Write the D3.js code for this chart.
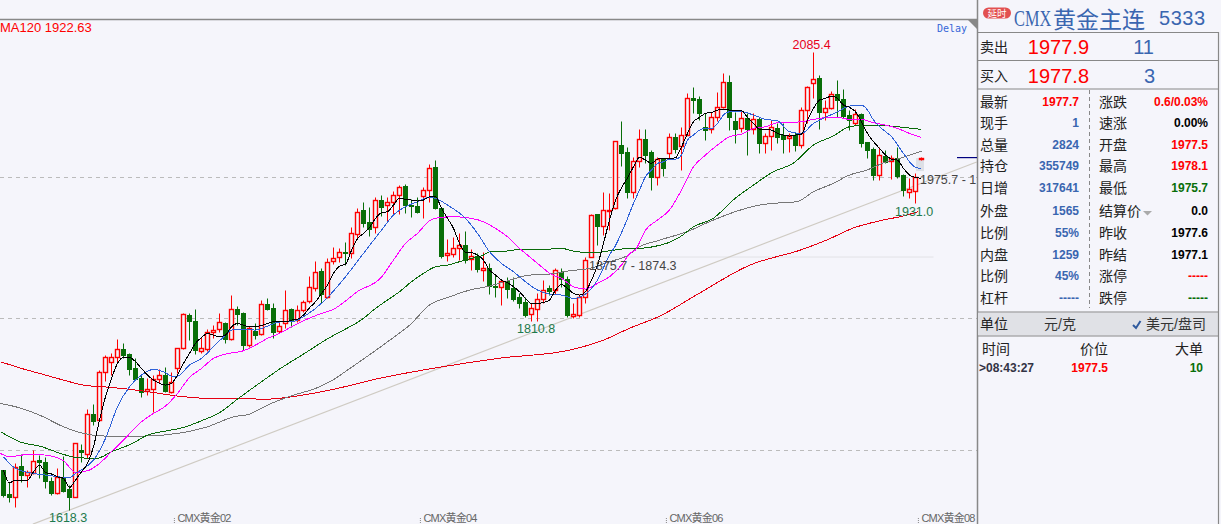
<!DOCTYPE html>
<html><head><meta charset="utf-8">
<script src="https://cdn.jsdelivr.net/npm/d3@7/dist/d3.min.js"></script>
<style>html,body{margin:0;padding:0;background:#f5f5fb;overflow:hidden}svg{display:block}
text{font-family:"Liberation Sans","Noto Sans CJK SC",sans-serif}</style></head><body>
<script>
const opens=[1659,1634.5,1631.8,1663.1,1654.2,1656.3,1669.2,1666.8,1648.1,1635.9,
1652.2,1639.3,1631.8,1679,1675.3,1716.1,1710,1758.6,1769.5,1773.9,
1782.4,1777,1763,1753.2,1739.2,1741.3,1751.5,1755.6,1738.9,1763.4,
1783.1,1817.1,1811,1780.7,1782.8,1799.4,1802.5,1808.6,1792.3,1822.9,
1818.8,1786.8,1801.1,1797.7,1828,1823.9,1801.1,1808.6,1822.9,1812,
1821.9,1831.7,1845,1862,1835.8,1872.5,1875.9,1881.4,1880,1899.4,
1924.2,1912,1907.2,1934.4,1929,1932,1939.2,1948.7,1929.3,1928.6,
1938.8,1944.6,1967.7,1925.9,1878,1879.3,1885.1,1888.2,1874.2,1877,
1863.3,1865,1846.7,1845.7,1851.4,1844.3,1835.1,1830,1817.8,1823.6,
1833.8,1844.6,1842.6,1861.3,1853.5,1816.4,1817.1,1835.1,1876.6,1919.8,
1907.9,1922.8,1925.9,1990.5,1983.4,1942.9,1973.8,1996.6,1983.4,1957.5,
1975.9,1982.7,1998.3,1989.8,2001,2038.1,2037.1,2008.9,2007.2,2018.7,
2029.6,2054.4,2014.6,2007.8,2018,2006.5,2016.7,1992.2,1999.3,2007.8,
2000.4,1997.3,2000.4,1990.2,2026.2,2054.1,2058.5,2024.5,2028.6,2042.5,
2037.1,2020.8,2013.3,2021.8,1993.2,1986.1,1960.2,1979.6,1974.2,1976.9,
1959.9,1942.2,1943.2,1977.5];
const closes=[1633.5,1631.8,1662.4,1654.2,1657.3,1668.5,1667.5,1648.1,1635.2,1651.5,
1637.9,1631.8,1686.2,1677.4,1715.8,1709.3,1758.6,1773.9,1774.6,1782.1,
1776.6,1762,1752.2,1738.9,1741.3,1751.8,1755.6,1739.9,1748.4,1783.1,
1817.8,1811.3,1781.4,1783.4,1799.4,1801.5,1809.6,1792.6,1822.9,1818.5,
1786.8,1803.8,1796.7,1828,1823.2,1800.1,1806.2,1821.9,1811.3,1821.9,
1830,1845.3,1860.6,1838.2,1870.8,1875.6,1881,1880,1900.4,1922.5,
1911.3,1904.5,1934.1,1927.6,1932,1939.2,1947.7,1929.6,1928.6,1922.5,
1944.3,1966.7,1925.9,1877.6,1880,1885.1,1888.2,1873.2,1877,1864,
1864.7,1846.7,1845.7,1851.4,1843.6,1833.4,1829.7,1817.1,1823.9,1833.8,
1842.9,1841.9,1863,1853.5,1817.1,1817.8,1835.1,1873.2,1918.8,1907.9,
1923.9,1924.2,1994.2,1982.7,1942.9,1973.8,1996.3,1980.3,1957.5,1975.9,
1966.7,1998.3,1986.1,2001,2038.1,2036.7,2023.5,2006.1,2018.7,2029.6,
2054.4,2018.7,2007.2,2018,2007.2,2016.7,1992.2,1999.7,2008.5,1999,
1997,1999.3,1990.8,2025.9,2049.3,2058.2,2024.5,2028.6,2042.5,2036.4,
2020.1,2016,2021.8,1992.9,1985.4,1959.9,1980,1973.5,1977.6,1958.9,
1944.6,1946,1958.2,1977.7];
const highs=[1659,1647,1665.8,1675.3,1659,1679.4,1674.3,1672.6,1651.5,1660.7,
1673.3,1643.7,1686.2,1685.5,1721.2,1726.3,1761,1776.3,1778,1792.3,
1788.5,1778,1772.9,1755.9,1752.5,1755.9,1761.7,1763.7,1759.3,1783.8,
1818.8,1819.5,1822.9,1794.3,1802.8,1806.9,1818.8,1810.3,1837.5,1826.3,
1820.5,1806.2,1808.6,1832.4,1834.8,1829.7,1810.3,1842.6,1823.9,1827.3,
1832.4,1856.9,1872.2,1864.7,1874.9,1886.8,1885.1,1891.9,1906.5,1925.9,
1932.7,1927.6,1937.8,1939.5,1937.1,1943.9,1949.7,1950.7,1935.1,1937.8,
1947.3,1971.1,1975.2,1927.6,1894.3,1897,1900.4,1903.1,1884.1,1880,
1881.7,1870.5,1857.9,1852.8,1856.2,1856.2,1839.9,1835.8,1829,1839.2,
1852.8,1847.7,1864.7,1864.7,1856.9,1829,1838.5,1876.6,1920.1,1920.1,
1942.9,1941.2,1994.9,2015.3,1988.8,1978.6,2007.2,2006.8,1985.4,1978.6,
1976.9,2003.1,2002.4,2008.5,2043.2,2049.3,2040.5,2022.8,2024.5,2044.6,
2063.6,2061.9,2024.5,2026.2,2022.8,2023.5,2019.4,2002.4,2016,2012.6,
2012.6,2002.4,2004.1,2029.6,2050.7,2085.4,2061.9,2036.4,2045.9,2056.8,
2047.3,2026.2,2026.9,2022.8,1993.9,1988.1,1988.1,1985.4,1980.3,1988.8,
1960.9,1956.5,1962.3,1978.1];
const lows=[1631.8,1626,1620.9,1647.1,1642,1654.9,1650.5,1640.3,1633.5,1634.5,
1636.9,1618.3,1631.1,1667.5,1670.9,1704.9,1709.3,1750.1,1755.9,1769.5,
1773.6,1755.9,1750.8,1733.8,1735.5,1718.5,1747.4,1738.9,1737.9,1758.3,
1782.1,1791.6,1777.3,1778.7,1780.7,1793.3,1800.1,1788.9,1791.6,1806.9,
1781.4,1784.1,1792.6,1796.7,1822.2,1793.3,1798.4,1803.5,1805.2,1810.3,
1820.5,1829,1841.9,1829,1834.1,1869.1,1871.5,1868.1,1874.9,1895.3,
1906.5,1897.7,1900.4,1918.1,1912.3,1919.1,1920.1,1921.5,1916.7,1921.5,
1915.7,1932.7,1924.9,1874.9,1872.5,1876.6,1873.2,1869.8,1863,1860.6,
1852.1,1838.5,1835.8,1827.3,1834.1,1831.7,1823.9,1815.4,1811.3,1810.8,
1829,1837.5,1838.5,1846,1815.4,1813.7,1815.4,1829,1875.9,1888.5,
1898.7,1903.8,1924.9,1969.1,1936.8,1936.8,1968.4,1971.8,1944.6,1949.7,
1958.9,1976.9,1982.7,1965,2000.3,2022.8,2016,1995.6,2002.4,2015.3,
2027.9,2005.8,1992.9,2004.1,1980.3,2001.7,1982.7,1982.7,1985.4,1992.2,
1982,1983.7,1984.7,1987.1,2013.3,2038.4,2006.5,2016,2026.9,2018.7,
2017.7,2005.8,2010.9,1988.8,1976.9,1954.8,1954.8,1971.8,1955.8,1956.5,
1938.5,1936.1,1931,1975.7];
// moving averages: [candle index, price]
const ma5=[1659,1646,1648.8,1648.8,1648.8,1657.3,1664,1656.6,1655,1652.2,
1650.5,1641.3,1648.8,1657.3,1665.8,1682.8,1710,1733.8,1752.5,1767.8,
1773.9,1773.9,1769.5,1762.7,1755.9,1750.8,1747.4,1745.7,1747.4,1755.9,
1767.8,1778,1788.2,1794.3,1798.4,1796.7,1795,1796.7,1805.2,1808.6,
1806.9,1805.2,1805.2,1806.6,1808.6,1810.3,1810.3,1810.3,1812,1813,
1817.1,1824.5,1830.7,1839.2,1847.7,1859.6,1867,1869,1883,1895,
1900.4,1906.5,1915.7,1921.5,1922.5,1929.3,1936.1,1935.1,1934.4,1933.4,
1934.4,1937.8,1937.8,1925.9,1915.7,1905.5,1890.2,1881,1880.7,1878.3,
1873.2,1863,1857.9,1852.8,1850.1,1846,1840.9,1834.1,1829,1829,
1830,1832.4,1842.6,1848.4,1844.3,1839.2,1837.5,1840.9,1852.8,1868.1,
1890.2,1914,1934,1947,1957,1968.4,1977.9,1975.2,1971.8,1976.2,
1976.9,1976.9,1977.6,1988.8,2002.4,2014.3,2018.7,2022.8,2023.8,2026.2,
2026.9,2026.2,2025.5,2025.5,2018.7,2012.6,2006.8,2006.8,2005.8,2002.4,
2000.7,1999.7,2000.7,2001.7,2016,2027.9,2036.4,2038.1,2040.5,2038.1,
2031.3,2028.9,2024.5,2014.3,2002.4,1993.9,1987.1,1980.3,1976.2,1975.2,
1966.7,1959.9,1957.5,1956.5];
const ma10Idx=[0,2,5,8,11,12,14,15,17,19,21,23,25,27,28,29,31,33,35,37,38,40,42,44,46,48,49,50,52,54,57,60,63,65,67,69,71,72,74,77,79,81,83,85,87,89,91,93,95,97,99,101,102,103,104,105,106,107,108,109,110,111,112,113,114,115,116,117,118,119,120,121,123,125,127,129,131,133,135,137,139,141,143,144,145,146,148,150,152,153];
const ma10=[1672.6,1660.7,1655.6,1653.2,1651.2,1655.6,1663.4,1669.2,1691.3,1723.6,1744,1755.9,1761.7,1758.3,1754.9,1754.9,1766.1,1772.9,1784.8,1796.7,1801.8,1802.5,1801.8,1805.9,1810,1810.3,1812,1815.4,1823.9,1835,1856.2,1880,1903.8,1919.1,1927.6,1932.7,1937.1,1936.1,1929.3,1915.7,1900.4,1881.7,1869.8,1861.3,1851.1,1842.6,1838.5,1837.5,1834.1,1838.5,1852.8,1878.3,1888,1901,1915.7,1931,1944.6,1958.2,1965,1971.8,1973.5,1976.2,1976.2,1980.3,1995.6,2000.7,2005.8,2007.5,2007.5,2012.6,2021.1,2024.5,2024.5,2021.1,2016.7,2015.3,2004.1,2002.4,2012.6,2018.7,2024.5,2030.3,2031.3,2026.2,2016,2009.2,1999,1982,1967.7,1966.7];
const ma20Idx=[-0.5,1,3,5,7,10,12,14,16,18,20,23,25,27,29,31,33,35,37,40,42,44,46,48,50,53,55,57.2,59.4,60,62.8,65,67,69,71,72.8,75,78,80,82,84,86,88,90,91,93,95,97,99,101,103,104.4,105.3,107,109,111,113,115,117,119,121,123,125,127,129,131,133,135,137,139,141,143,145,147,149,151,153];
const ma20=[1676,1672.6,1674.3,1675,1674.3,1668.5,1656.6,1658.3,1665.8,1677.7,1689.6,1708.3,1716.8,1724.3,1737.2,1753.5,1762.7,1772.9,1777.3,1780.7,1786.5,1793.3,1798.4,1805.2,1811.3,1818.8,1822.9,1832.4,1842.6,1844.3,1854.5,1873.2,1890.2,1900.4,1913.3,1916.7,1917.4,1915.7,1912.3,1905.5,1897,1885.1,1874.9,1864.7,1859.6,1854.5,1846,1843.6,1849.4,1856.2,1868.1,1880,1883.4,1903.8,1914,1924.2,1944.6,1968.4,1980.3,1990.5,1999,2001.7,2007.5,2009.2,2013.3,2013.6,2014.3,2016.7,2018.4,2018.7,2016.7,2016.7,2013.3,2010.9,2007.5,2002.4,1998.3];
const ma40Idx=[-0.5,3,6,10,12,15.5,18,21.5,24,27,30,33,36,39,43,46,50,54.4,56.7,60,62,64,66,68,70,72,74,76,78,80,81,83,85,88,91,93,95,97,99,101,104.4,105.3,110.5,112.8,115,118.3,121.6,125,128.3,131.6,135,138.3,141,143.9,147.2,150.5,153];
const ma40=[1698.1,1687.2,1683.5,1675,1671.9,1670.9,1677.7,1686.2,1694.7,1698.8,1702.5,1709.3,1717.5,1731.4,1749.1,1762,1777.3,1794.3,1801.8,1813.7,1823.9,1832.4,1840.9,1851.1,1859.6,1866.4,1868.1,1871.5,1874.9,1878.3,1881.7,1881.7,1883.4,1884.1,1884.4,1885.1,1882.4,1881,1881,1882.7,1885.1,1885.1,1890.2,1897,1907.2,1915.7,1934.4,1949.7,1963.3,1971.8,1990.5,1999.7,2009.2,2010.9,2010.2,2008.2,2006.5];
const ma60Idx=[-0.5,3,6,10,13.3,17,23.4,29,34,38.4,41,44,48,52,54.4,57.8,64.4,67.7,71,74.4,77.7,81,84.4,87.7,91,94.4,97.7,101,104.4,105.5,109.4,113.9,118.3,122.8,126,128.3,132.2,135,138.3,141,143.9,147.2,149.4,153];
const ma60=[1727,1721.9,1715.1,1703.2,1696.4,1693.7,1693.7,1696.4,1703.2,1713.4,1716.1,1725.3,1734.8,1742.3,1749.1,1763,1791.6,1806.9,1827.3,1835.8,1842.6,1846.7,1852.8,1857.9,1858.9,1862.3,1864.7,1871.5,1879.3,1885.1,1893.6,1902.1,1914,1924.2,1929.3,1931,1932.7,1942.9,1951.4,1959.9,1965,1973.5,1976.9,1984.4];
const ma120Idx=[-0.5,3,6,10,13.3,18,23.4,29,34,38.4,44,48,54.4,62.8,72.8,82.8,94.4,100,104.4,109.4,116,124.4,132.8,137.2,141.6,146.6,150.6,152.4];
const ma120=[1769.5,1762.7,1757.6,1750.8,1745.7,1743.3,1739.6,1734.5,1732.1,1731.8,1731.4,1733.8,1740.6,1752.8,1764,1773.2,1781.4,1791.6,1803.8,1816.1,1839.5,1868.1,1883.4,1893.6,1905.8,1914,1919.1,1922.6];
const trendIdx=[4.9,162.2], trendPrice=[1603.9,1973.2];
const levelIdx=[97,155], levelPrice=[1876.3,1876.3];
const gridPrices=[1958,1814,1679.5];
const monthTicks=[28.4,69.4,110.4,152.4];
const monthLabels=["CMX黄金02","CMX黄金04","CMX黄金06","CMX黄金08"];

const W=1221,H=524,RED="#f00",GREEN="#086e08",BLUE="#3a66b0",BG="#f5f5fb";
const svg=d3.select("body").append("svg").attr("width",W).attr("height",H);
const x=d3.scaleLinear().domain([0,153]).range([3.5,921.5]);
const y=d3.scaleLinear().domain([2085.4,1618.3]).range([52,510]);
svg.append("rect").attr("width",W).attr("height",H).attr("fill",BG);
svg.append("defs").append("clipPath").attr("id","plot").append("rect").attr("x",0).attr("y",20).attr("width",977).attr("height",504);
const plot=svg.append("g").attr("clip-path","url(#plot)");

plot.selectAll(".grid").data(gridPrices).join("line")
 .attr("x1",0).attr("x2",977).attr("y1",d=>Math.round(y(d))+.5).attr("y2",d=>Math.round(y(d))+.5)
 .attr("stroke","#bbb").attr("stroke-dasharray","4 4");
const seg=(xs,ps,c,w=1)=>plot.append("line").attr("x1",x(xs[0])).attr("x2",x(xs[1])).attr("y1",y(ps[0])).attr("y2",y(ps[1])).attr("stroke",c).attr("stroke-width",w);
seg(levelIdx,levelPrice,"#e2e2e6");
seg(trendIdx,trendPrice,"#cfcbc3",1.2);

// highlight behind latest candle
plot.append("rect").attr("x",x(153)-5.5).attr("y",y(1977.2)).attr("width",8).attr("height",13).attr("fill","#dde0e6");

const idx=d3.range(opens.length);
const px=v=>Math.round(y(v))+.5;
const candles=plot.append("g");
candles.selectAll("line").data(idx).join("line")
 .attr("x1",i=>x(i)).attr("x2",i=>x(i)).attr("y1",i=>px(highs[i])).attr("y2",i=>px(lows[i]))
 .attr("stroke",i=>closes[i]>=opens[i]?RED:GREEN);
candles.selectAll("rect").data(idx).join("rect")
 .attr("x",i=>closes[i]>=opens[i]?x(i)-2:x(i)-2.5)
 .attr("width",i=>closes[i]>=opens[i]?4:5)
 .attr("y",i=>closes[i]>=opens[i]?px(closes[i]):px(opens[i])-.5)
 .attr("height",i=>{const h=Math.abs(px(closes[i])-px(opens[i]));return closes[i]>=opens[i]?Math.max(h,1):Math.max(h+1,2)})
 .attr("fill",i=>closes[i]>=opens[i]?BG:GREEN)
 .attr("stroke",i=>closes[i]>=opens[i]?RED:"none")
 .attr("stroke-width",1.4);

const line=d3.line().x(d=>x(d[0])).y(d=>y(d[1])).curve(d3.curveMonotoneX);
const drawMa=(xs,vs,c,w)=>plot.append("path").attr("d",line(xs.map((v,k)=>[v,vs[k]]))).attr("fill","none").attr("stroke",c).attr("stroke-width",w).attr("shape-rendering","crispEdges");
drawMa(ma120Idx,ma120,"#e60012",1);
drawMa(ma60Idx,ma60,"#777",1);
drawMa(ma40Idx,ma40,"#0a6a0a",1);
drawMa(ma20Idx,ma20,"#ff00ff",1);
drawMa(ma10Idx,ma10,"#2f62d8",1);
drawMa(idx,ma5,"#000",1);

// frame
svg.append("line").attr("x1",0).attr("x2",977).attr("y1",19.5).attr("y2",19.5).attr("stroke","#888").attr("stroke-width",1.5);
svg.append("path").attr("d","M968 20L977 20L977 29Z").attr("fill","#888");
svg.append("line").attr("x1",977.5).attr("x2",977.5).attr("y1",0).attr("y2",H).attr("stroke","#888").attr("stroke-width",1.5);
svg.append("rect").attr("x",957).attr("y",157).attr("width",20).attr("height",1.2).attr("fill","#00007f");

const T=(s,xx,yy,o={})=>{const t=svg.append("text").text(s).attr("x",xx).attr("y",yy).attr("dominant-baseline","central")
 .attr("font-size",o.size||12).attr("fill",o.fill||"#222").attr("font-weight",o.bold?"bold":"normal")
 .attr("text-anchor",o.anchor||"start"); if(o.family)t.style("font-family",o.family); return t;};

T("MA120 1922.63",0,27.5,{size:13,fill:"#f00"});
T("Delay",937,28,{size:10,fill:"#3567d8",family:"'DejaVu Sans Mono'"}).attr("textLength",30);
T("2085.4",x(135)-21,45,{size:12.5,fill:"#e8001a"});
T("1618.3",49,518,{size:12.5,fill:"#1d7a4c"});
T("1810.8",517,329,{size:12.5,fill:"#1d7a4c"});
T("1931.0",895,212,{size:12.5,fill:"#1d7a4c"});
T("1875.7 - 1874.3",589,265.5,{size:12.5,fill:"#444"});
T("1975.7 - 1",920,180,{size:12.5,fill:"#444"});

const axis=d3.axisBottom(x).tickValues(monthTicks).tickFormat((d,i)=>monthLabels[i]).tickSize(6);
const ax=svg.append("g").attr("transform","translate(0,512)").call(axis);
ax.select(".domain").remove();
ax.selectAll(".tick line").attr("stroke","#888").attr("stroke-dasharray","1 1").attr("transform","translate(0,6)");
ax.selectAll(".tick text").attr("text-anchor","start").attr("x",3).attr("y",6).attr("dy",".35em").attr("font-size",11).attr("fill","#666").attr("textLength",54).style("font-family","'Liberation Sans','Noto Sans CJK SC'");

// right panel
const P="#888";
[[32.5],[60.5],[89]].forEach(d=>svg.append("line").attr("x1",978).attr("x2",1219).attr("y1",d[0]).attr("y2",d[0]).attr("stroke",P).attr("stroke-width",1.2));
svg.append("rect").attr("x",978).attr("y",312.5).attr("width",241).attr("height",23).attr("fill","#e0e1e6");
[[312],[336]].forEach(d=>svg.append("line").attr("x1",978).attr("x2",1219).attr("y1",d[0]).attr("y2",d[0]).attr("stroke",P).attr("stroke-width",1.2));
svg.append("line").attr("x1",1218.5).attr("x2",1218.5).attr("y1",32).attr("y2",H).attr("stroke",P).attr("stroke-width",1.2);
svg.append("line").attr("x1",1089.5).attr("x2",1089.5).attr("y1",90).attr("y2",308).attr("stroke",P).attr("stroke-dasharray","4 3");
svg.append("rect").attr("x",983).attr("y",7.5).attr("width",28).attr("height",11).attr("rx",5.5).attr("fill","#e25050");
T("延时",997,13,{size:9.5,fill:"#fff",anchor:"middle"});
T("CMX",0,0,{size:23,fill:BLUE,family:"'Liberation Serif'"}).attr("transform","translate(1014,18) scale(.71,1)");
T("黄金主连",1053,18,{size:23,fill:BLUE,family:"'Noto Sans CJK SC'"}).attr("textLength",92);
T("5333",1159,18,{size:20,fill:BLUE}).attr("textLength",46);

T("卖出",980,47,{size:14});T("买入",980,76,{size:14});
T("1977.9",1089,47,{size:20,fill:RED,anchor:"end"});T("1977.8",1089,76,{size:20,fill:RED,anchor:"end"});
T("11",1154,47,{size:20,fill:BLUE,anchor:"end"});T("3",1155,76,{size:20,fill:BLUE,anchor:"end"});

const rowsY=[102,123,145,166,188,211,233,255,276,298];
const leftLabels=["最新","现手","总量","持仓","日增","外盘","比例","内盘","比例","杠杆"];
const leftVals=["1977.7","1","2824","355749","317641","1565","55%","1259","45%","-----"];
const leftCols=[RED,BLUE,BLUE,BLUE,BLUE,BLUE,BLUE,BLUE,BLUE,BLUE];
const rightLabels=["涨跌","速涨","开盘","最高","最低","结算价","昨收","昨结","涨停","跌停"];
const rightVals=["0.6/0.03%","0.00%","1977.5","1978.1","1975.7","0.0","1977.6","1977.1","-----","-----"];
const rightCols=[RED,"#000",RED,RED,GREEN,"#000","#000","#000",RED,GREEN];
rowsY.forEach((yy,k)=>{
 T(leftLabels[k],980,yy,{size:14});
 T(leftVals[k],1079,yy,{size:12,bold:true,fill:leftCols[k],anchor:"end"});
 T(rightLabels[k],1099,yy,{size:14});
 T(rightVals[k],1208,yy,{size:12,bold:true,fill:rightCols[k],anchor:"end"});
});
svg.append("path").attr("d","M1143 211L1152 211L1147.5 215.5Z").attr("fill","#aaa");
T("单位",980,324,{size:14});T("元/克",1044,324,{size:14,fill:"#333"});
svg.append("path").attr("d","M1133 325L1136 328L1140.5 321").attr("fill","none").attr("stroke","#2f5a9e").attr("stroke-width",2);
T("美元/盘司",1146,324,{size:14,fill:"#333"});
T("时间",982,349,{size:14});T("价位",1080,349,{size:14});T("大单",1175,349,{size:14});
T(">08:43:27",979,368,{size:12,bold:true,fill:"#334"});
T("1977.5",1108,368,{size:12,bold:true,fill:RED,anchor:"end"});
T("10",1203,368,{size:12,bold:true,fill:GREEN,anchor:"end"});
</script></body></html>
